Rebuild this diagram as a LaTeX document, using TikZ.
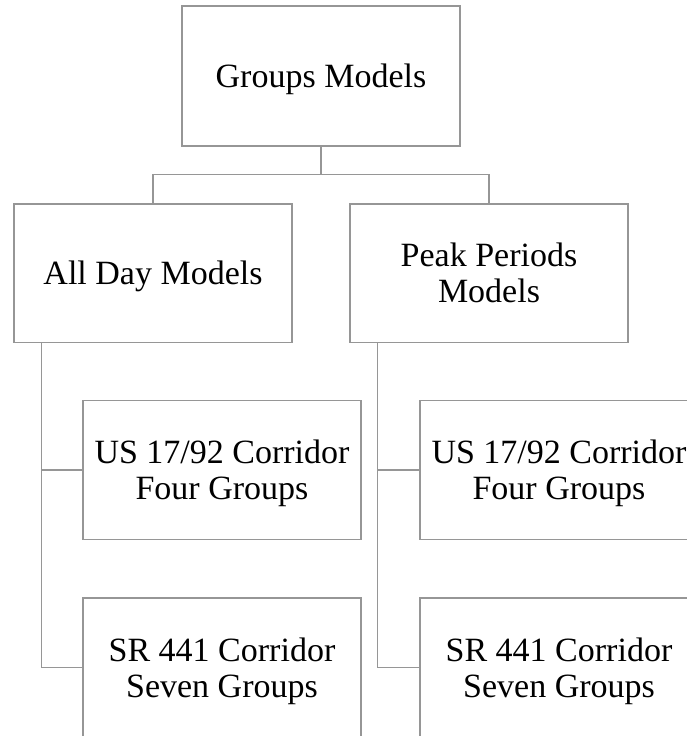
\documentclass[tikz,border=0pt]{standalone}
\usepackage{fontspec}
\setmainfont{Liberation Serif}
\definecolor{linegray}{RGB}{150,150,150}
\tikzset{
  orgbox/.style={draw=linegray, line width=1.5pt, minimum width=278pt, minimum height=139pt,
    align=center, inner sep=0pt, text depth=0pt, font=\fontsize{34}{36}\selectfont, text=black},
  link/.style={draw=linegray, line width=1.5pt}
}
\begin{document}
\begin{tikzpicture}[x=1pt,y=-1pt]
\useasboundingbox (0,0) rectangle (687,736);
\clip (0,0) rectangle (687,736);
\node[orgbox, minimum height=140pt] (top) at (321,76) {Groups Models};
\node[orgbox, minimum height=138.5pt] (ad) at (153,273.2) {All Day Models};
\node[orgbox, minimum height=138.5pt] (pk) at (489,273.2) {Peak Periods\\Models};
\node[orgbox] (us1) at (222,470) {US 17/92 Corridor\\Four Groups};
\node[orgbox] (sr1) at (222,667.5) {SR 441 Corridor\\Seven Groups};
\node[orgbox] (us2) at (559,470) {US 17/92 Corridor\\Four Groups};
\node[orgbox] (sr2) at (559,667.5) {SR 441 Corridor\\Seven Groups};
\coordinate (bar) at (321,174.5);
\coordinate (lx) at (41.7,0);
\coordinate (rx) at (377.7,0);
\draw[link] (top.south) -- (bar);
\draw[link] (ad.north) |- (bar) -| (pk.north);
\draw[link] (ad.south -| lx) |- (sr1.west);
\draw[link] (us1.west) -- (us1.west -| lx);
\draw[link] (pk.south -| rx) |- (sr2.west);
\draw[link] (us2.west) -- (us2.west -| rx);
\end{tikzpicture}
\end{document}
